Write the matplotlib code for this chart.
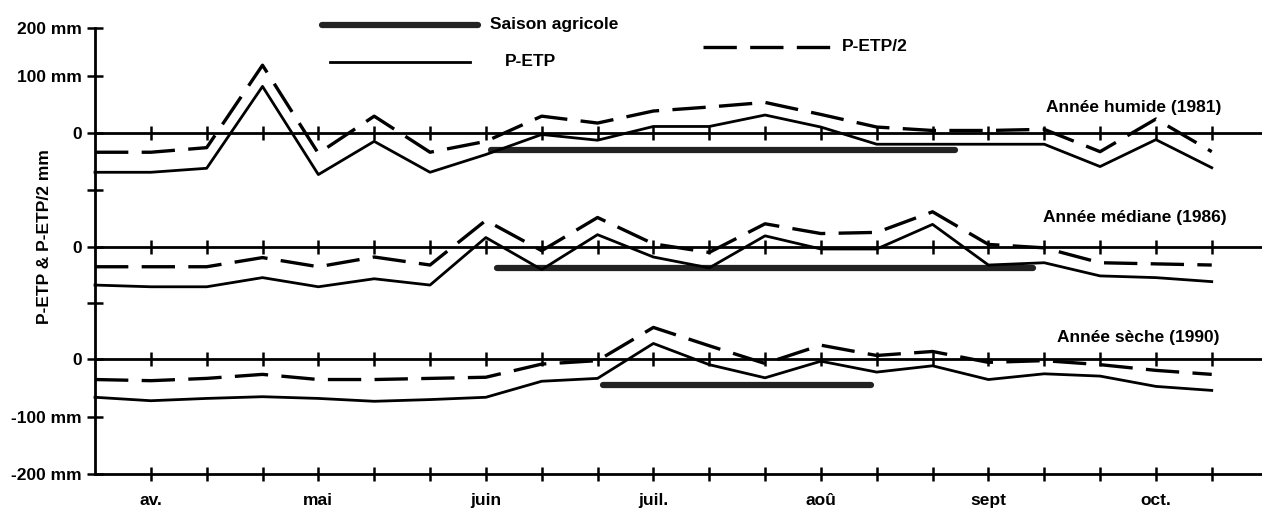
import matplotlib
matplotlib.use('Agg')
import matplotlib.pyplot as plt
from matplotlib.lines import Line2D

# ---------------- data (mm) ----------------
dekads = list(range(21))                      # 21 dekads, April -> October
months = ['av.', 'mai', 'juin', 'juil.', 'aoû', 'sept', 'oct.']
month_dekads = [1, 4, 7, 10, 13, 16, 19]

humid_petp = [-68, -68, -61, 82, -72, -14, -68, -37, -2, -12, 12, 12, 32, 11,
              -19, -19, -19, -19, -58, -11, -60]
humid_petp2 = [-33, -33, -25, 119, -35, 30, -33, -14, 30, 18, 39, 46, 54, 33,
               11, 5, 5, 7, -32, 25, -32]

median_petp = [-67, -70, -70, -54, -70, -56, -67, 16, -40, 21, -18, -37, 19, -4,
               -4, 39, -32, -28, -51, -54, -61]
median_petp2 = [-35, -35, -35, -19, -35, -18, -32, 46, -7, 51, 5, -10, 40, 23,
                25, 61, 4, -2, -28, -30, -32]

dry_petp = [-66, -72, -68, -65, -68, -73, -70, -66, -38, -33, 28, -9, -32, -3,
            -22, -11, -35, -25, -29, -47, -54]
dry_petp2 = [-35, -37, -33, -26, -35, -35, -33, -31, -8, -2, 56, 24, -7, 25,
             7, 14, -5, -2, -9, -19, -26]

# agricultural season: start dekad, end dekad, level (mm)
season_start = [7.1, 7.2, 9.1]
season_end = [15.4, 16.8, 13.9]
season_level = [-29, -37, -44]

year_names = ['Année humide (1981)', 'Année médiane (1986)', 'Année sèche (1990)']

ytick_values = [-200, -100, 0, 98, 197, 296, 395, 495, 579]
ytick_labels = ['-200 mm', '-100 mm', '0', '', '0', '', '0', '100 mm', '200 mm']

# ---------------- layout / style ----------------
offsets = [395, 197, 0]          # vertical offset of each year's panel
label_dy = [45, 51, 38]
label_x = [20.18, 20.27, 20.14]

plt.rcParams['font.family'] = ['Liberation Sans', 'DejaVu Sans']
plt.rcParams['font.weight'] = 'bold'
plt.rcParams['font.size'] = 12

FS = 12.5
W, H = 1262, 513
fig = plt.figure(figsize=(W / 100, H / 100), dpi=100)
ax = fig.add_axes([95 / W, 39 / H, 1167 / W, 446 / H])
ax.set_xlim(0, 20.9)
ax.set_ylim(-200, 579)

for s in ['top', 'right']:
    ax.spines[s].set_visible(False)
for s in ['left', 'bottom']:
    ax.spines[s].set_linewidth(2.0)

ax.set_yticks(ytick_values)
ax.set_yticklabels(ytick_labels, fontweight='bold', fontsize=FS)
ax.tick_params(axis='y', direction='inout', length=11, width=1.8, pad=4)

ax.set_xticks(dekads[1:])
xl = ['' for _ in dekads[1:]]
for m, d in zip(months, month_dekads):
    xl[d - 1] = m
ax.set_xticklabels(xl, fontweight='bold', fontsize=FS)
ax.tick_params(axis='x', direction='inout', length=10, width=1.8, pad=9)

series = [(humid_petp, humid_petp2), (median_petp, median_petp2), (dry_petp, dry_petp2)]

for i, (p, p2) in enumerate(series):
    off = offsets[i]
    # zero line with dekad crosses
    ax.plot([0, 20.9], [off, off], color='black', lw=2.0, clip_on=False, zorder=2)
    ax.plot(dekads[1:], [off] * 20, ls='none', marker='|', ms=10, mew=1.8,
            color='black', clip_on=False, zorder=2)
    # season bar
    ax.plot([season_start[i], season_end[i]], [off + season_level[i]] * 2,
            color='#222222', lw=4.5, solid_capstyle='round', clip_on=False, zorder=3)
    # P-ETP
    ax.plot(dekads, [off + v for v in p], color='black', lw=2.0, clip_on=False, zorder=4)
    # P-ETP/2
    ax.plot(dekads, [off + v for v in p2], color='black', lw=2.4,
            dashes=(10, 4), clip_on=False, zorder=4)
    ax.text(label_x[i], off + label_dy[i], year_names[i], ha='right', va='center',
            fontsize=FS, fontweight='bold')

# y label
fig.text(45 / W, 1 - 237 / H, 'P-ETP & P-ETP/2 mm', rotation=90,
         ha='center', va='center', fontsize=FS, fontweight='bold')


# legend (drawn manually in figure pixels)
def fx(x):
    return x / W


def fy(y):
    return 1 - y / H


fig.add_artist(Line2D([fx(322), fx(478)], [fy(25), fy(25)], color='#222222', lw=4.5,
                      solid_capstyle='round', transform=fig.transFigure))
fig.text(fx(490), fy(25), 'Saison agricole', ha='left', va='center', fontsize=FS,
         fontweight='bold')
fig.add_artist(Line2D([fx(330), fx(470)], [fy(62), fy(62)], color='black', lw=2.0,
                      transform=fig.transFigure))
fig.text(fx(505), fy(62), 'P-ETP', ha='left', va='center', fontsize=FS, fontweight='bold')
fig.add_artist(Line2D([fx(703), fx(832)], [fy(47), fy(47)], color='black', lw=2.4,
                      dashes=(10, 4), transform=fig.transFigure))
fig.text(fx(842), fy(47), 'P-ETP/2', ha='left', va='center', fontsize=FS, fontweight='bold')

fig.savefig('out.png', dpi=100, facecolor='white')
